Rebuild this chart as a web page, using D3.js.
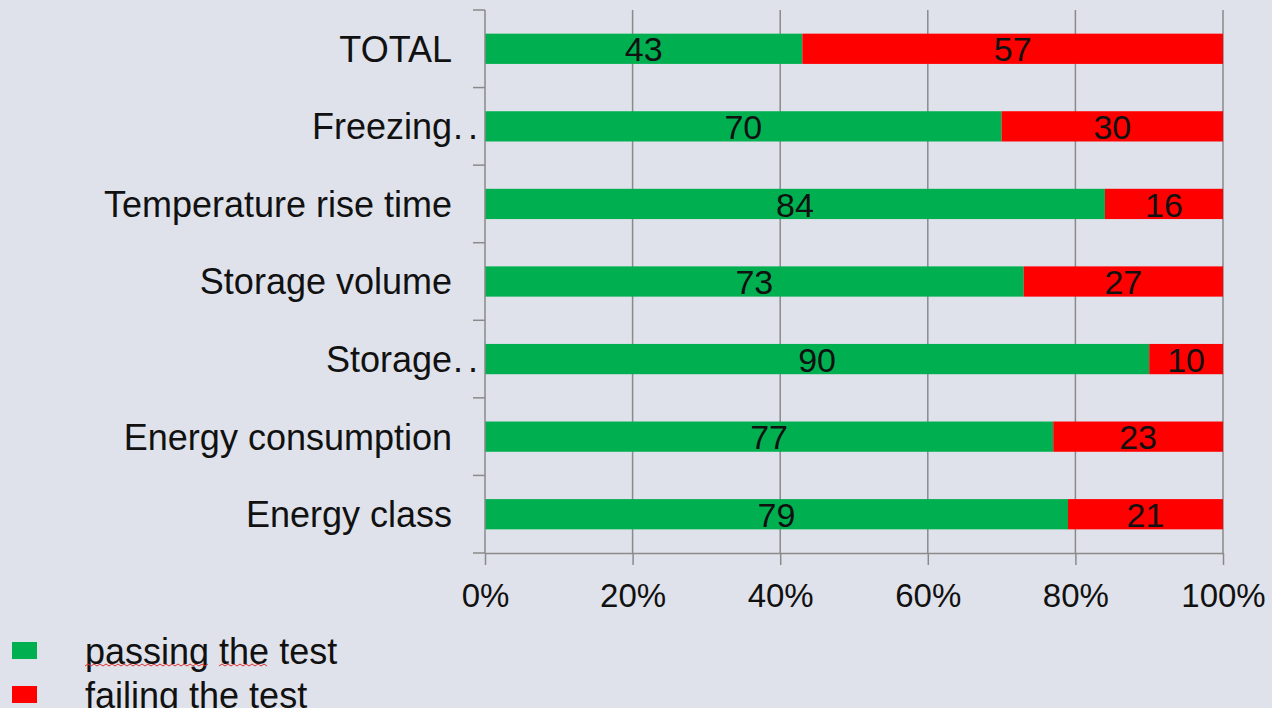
<!DOCTYPE html>
<html>
<head>
<meta charset="utf-8">
<script src="https://cdn.jsdelivr.net/npm/d3@7"></script>
<style>
  html, body { margin: 0; padding: 0; background: #dfe2ea; }
  svg { display: block; }
  text { font-family: "Liberation Sans", Arial, sans-serif; }
</style>
</head>
<body>
<script>
const categories = ["TOTAL", "Freezing..", "Temperature rise time", "Storage volume", "Storage..", "Energy consumption", "Energy class"];
const passing = [43, 70, 84, 73, 90, 77, 79];
const failing = [57, 30, 16, 27, 10, 23, 21];
const tickValues = [0, 20, 40, 60, 80, 100];
const tickLabels = ["0%", "20%", "40%", "60%", "80%", "100%"];
const seriesNames = ["passing the test", "failing the test"];
const colors = ["#00b050", "#ff0000"];

const W = 1272, H = 708;
const margin = { left: 485, right: 49, top: 10, bottom: 155 };

const svg = d3.select("body").append("svg").attr("width", W).attr("height", H);
svg.append("rect").attr("width", W).attr("height", H).attr("fill", "#dfe2ea");

const x = d3.scaleLinear().domain([0, 100]).range([margin.left, W - margin.right]);
const y = d3.scaleBand().domain(categories).range([margin.top, H - margin.bottom]).paddingInner(0.61).paddingOuter(0.305);

const gridColor = "#8a8a8a";

// vertical gridlines
svg.append("g").selectAll("line").data(tickValues.slice(1)).join("line")
  .attr("x1", d => x(d)).attr("x2", d => x(d))
  .attr("y1", y.range()[0]).attr("y2", y.range()[1])
  .attr("stroke", gridColor).attr("stroke-width", 1.5);

// stacked bars
const rows = categories.map((c, i) => ({ cat: c, pass: passing[i], fail: failing[i] }));
const stack = d3.stack().keys(["pass", "fail"])(rows);

const layers = svg.append("g").selectAll("g").data(stack).join("g")
  .attr("fill", (d, i) => colors[i]);
layers.selectAll("rect").data(d => d).join("rect")
  .attr("x", d => x(d[0]))
  .attr("width", d => x(d[1]) - x(d[0]))
  .attr("y", d => y(d.data.cat))
  .attr("height", y.bandwidth());

// data labels
layers.selectAll("text").data(d => d).join("text")
  .attr("x", d => (x(d[0]) + x(d[1])) / 2)
  .attr("y", d => y(d.data.cat) + y.bandwidth() / 2)
  .attr("dy", "0.37em")
  .attr("text-anchor", "middle")
  .attr("font-size", 34)
  .attr("fill", "#111")
  .text(d => d[1] - d[0]);

// bottom axis
const xAxis = d3.axisBottom(x).tickValues(tickValues).tickFormat((d, i) => tickLabels[i]).tickSize(12).tickSizeOuter(0);
const gx = svg.append("g").attr("transform", `translate(0,${y.range()[1]})`).call(xAxis);
gx.select(".domain").attr("stroke", gridColor).attr("stroke-width", 1.5);
gx.selectAll(".tick line").attr("stroke", gridColor).attr("stroke-width", 1.5);
gx.selectAll(".tick text").attr("font-size", 33).attr("fill", "#111").attr("dy", "1.18em")
  .attr("font-family", "'Liberation Sans', Arial, sans-serif");

// left axis line with ticks at band boundaries
const boundaries = d3.range(categories.length + 1).map(i => y.range()[0] + i * y.step());
svg.append("line")
  .attr("x1", x(0)).attr("x2", x(0))
  .attr("y1", y.range()[0]).attr("y2", y.range()[1])
  .attr("stroke", gridColor).attr("stroke-width", 1.5);
svg.append("g").selectAll("line").data(boundaries).join("line")
  .attr("x1", x(0) - 12).attr("x2", x(0))
  .attr("y1", d => d).attr("y2", d => d)
  .attr("stroke", gridColor).attr("stroke-width", 1.5);

// category labels (truncated labels show their ".." past the text edge)
const labelX = x(0) - 33;
const catG = svg.append("g");
categories.forEach(c => {
  const cy = y(c) + y.bandwidth() / 2;
  const truncated = c.endsWith("..");
  const base = truncated ? c.slice(0, -2) : c;
  catG.append("text")
    .attr("x", labelX).attr("y", cy).attr("dy", "0.36em")
    .attr("text-anchor", "end").attr("font-size", 36).attr("fill", "#111")
    .text(base);
  if (truncated) {
    catG.append("text")
      .attr("x", labelX + 1).attr("y", cy).attr("dy", "0.36em")
      .attr("text-anchor", "start").attr("font-size", 36).attr("fill", "#111")
      .attr("letter-spacing", 5)
      .text("..");
  }
});

// legend
const legend = svg.append("g");
const legendY = [651, 695];
seriesNames.forEach((name, i) => {
  legend.append("rect").attr("x", 12).attr("y", legendY[i] - 9).attr("width", 25).attr("height", 17).attr("fill", colors[i]);
  legend.append("text").attr("x", 85).attr("y", legendY[i]).attr("dy", "0.36em")
    .attr("font-size", 36).attr("fill", "#111").text(name);
});

// spell-check squiggles under first legend line
function squiggle(x0, x1, yy) {
  let p = `M${x0},${yy}`;
  let up = true;
  for (let xx = x0 + 3; xx <= x1; xx += 3) { p += ` L${xx},${yy + (up ? -2 : 0)}`; up = !up; }
  return p;
}
legend.append("path").attr("d", squiggle(85, 210, 666)).attr("fill", "none").attr("stroke", "#e03030").attr("stroke-width", 1);
legend.append("path").attr("d", squiggle(219, 268, 666)).attr("fill", "none").attr("stroke", "#e03030").attr("stroke-width", 1);
</script>
</body>
</html>
